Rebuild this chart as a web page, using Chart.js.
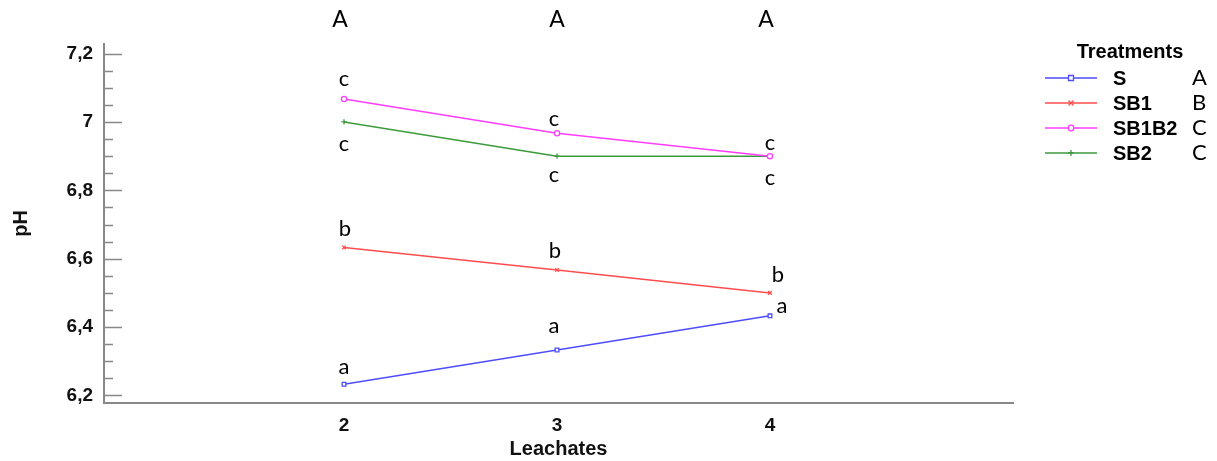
<!DOCTYPE html>
<html>
<head>
<meta charset="utf-8">
<script src="https://cdn.jsdelivr.net/npm/chart.js@4.4.1/dist/chart.umd.min.js"></script>
<style>
  html, body { margin: 0; padding: 0; background: #fff; }
</style>
</head>
<body>
<canvas id="ph-chart" width="1217" height="461"></canvas>
<script>
// valeurs
const leachates = [2, 3, 4];
const treatments = ["S", "SB1", "SB1B2", "SB2"];
const sValues = [6.233, 6.333, 6.433];
const sb1Values = [6.633, 6.567, 6.5];
const sb1b2Values = [7.067, 6.967, 6.9];
const sb2Values = [7.0, 6.9, 6.9];

// lettres de significativite
const treatmentGroups = ["A", "B", "C", "C"];
const leachateGroups = ["A", "A", "A"];
const sLetters = ["a", "a", "a"];
const sb1Letters = ["b", "b", "b"];
const sb1b2Letters = ["c", "c", "c"];
const sb2Letters = ["c", "c", "c"];

const yTickValues = [6.2, 6.25, 6.3, 6.35, 6.4, 6.45, 6.5, 6.55, 6.6, 6.65, 6.7, 6.75, 6.8, 6.85, 6.9, 6.95, 7.0, 7.05, 7.1, 7.15, 7.2];

// position des lettres par rapport au point (dx, dy baseline)
const letterOffsets = [
  [[0, -10], [-3, -17], [12, -3]],
  [[1, -11], [-2, -12], [8, -11]],
  [[0, -13], [-3, -7], [0, -6]],
  [[0, 29], [-3, 26], [0, 29]]
];
const topLetterDx = [-4, 0, -4];

const colors = ["#4d4dff", "#ff4d4d", "#ff3dff", "#3c9a3c"];
const pointStyles = ["rect", "crossRot", "circle", "cross"];
const axisGrey = "#888888";

function toPoints(values) {
  return values.map((v, i) => ({ x: leachates[i], y: v }));
}

const seriesValues = [sValues, sb1Values, sb1b2Values, sb2Values];
const seriesLetters = [sLetters, sb1Letters, sb1b2Letters, sb2Letters];

const datasets = treatments.map((name, i) => ({
  label: name,
  data: toPoints(seriesValues[i]),
  letters: seriesLetters[i],
  borderColor: colors[i],
  backgroundColor: "#ffffff",
  pointBorderColor: colors[i],
  pointBackgroundColor: "#ffffff",
  pointStyle: pointStyles[i],
  pointRadius: 2.6,
  pointBorderWidth: 1.3,
  borderWidth: 1.5,
  tension: 0
}));

function drawMarker(ctx, style, x, y, color) {
  ctx.save();
  ctx.strokeStyle = color;
  ctx.fillStyle = "#ffffff";
  ctx.lineWidth = 1.3;
  ctx.beginPath();
  if (style === "rect") {
    ctx.rect(x - 2.5, y - 2.5, 5, 5);
    ctx.fill();
  } else if (style === "circle") {
    ctx.arc(x, y, 2.8, 0, Math.PI * 2);
    ctx.fill();
  } else if (style === "crossRot") {
    ctx.moveTo(x - 2.5, y - 2.5); ctx.lineTo(x + 2.5, y + 2.5);
    ctx.moveTo(x + 2.5, y - 2.5); ctx.lineTo(x - 2.5, y + 2.5);
  } else {
    ctx.moveTo(x, y - 3); ctx.lineTo(x, y + 3);
    ctx.moveTo(x - 3, y); ctx.lineTo(x + 3, y);
  }
  ctx.stroke();
  ctx.restore();
}

// petites graduations vers l'interieur
const innerTicks = {
  id: "innerTicks",
  afterDraw(chart) {
    const { ctx, scales: { y }, chartArea } = chart;
    ctx.save();
    ctx.strokeStyle = axisGrey;
    ctx.lineWidth = 1.5;
    y.ticks.forEach(t => {
      const major = Math.abs(t.value * 5 - Math.round(t.value * 5)) < 1e-6;
      const py = Math.round(y.getPixelForValue(t.value)) + 0.5;
      ctx.beginPath();
      ctx.moveTo(chartArea.left, py);
      ctx.lineTo(chartArea.left + (major ? 18 : 9), py);
      ctx.stroke();
    });
    ctx.restore();
  }
};

const letterLabels = {
  id: "letterLabels",
  afterDatasetsDraw(chart) {
    const { ctx, scales: { x, y } } = chart;
    ctx.save();
    ctx.fillStyle = "#000";
    ctx.font = "22px Lato";
    ctx.textAlign = "center";
    ctx.textBaseline = "alphabetic";
    chart.data.datasets.forEach((ds, i) => {
      ds.data.forEach((pt, j) => {
        const off = letterOffsets[i][j];
        ctx.fillText(ds.letters[j], x.getPixelForValue(pt.x) + off[0], y.getPixelForValue(pt.y) + off[1]);
      });
    });
    ctx.font = "23px Lato";
    leachates.forEach((l, j) => {
      ctx.fillText(leachateGroups[j], x.getPixelForValue(l) + topLetterDx[j], 27);
    });
    ctx.restore();
  }
};

const sideLegend = {
  id: "sideLegend",
  afterDraw(chart) {
    const { ctx } = chart;
    ctx.save();
    ctx.fillStyle = "#000";
    ctx.textBaseline = "middle";
    ctx.font = "bold 20px 'Liberation Sans', Arial";
    ctx.textAlign = "center";
    ctx.fillText("Treatments", 1130, 52);
    treatments.forEach((name, i) => {
      const ry = 78 + i * 25;
      ctx.strokeStyle = colors[i];
      ctx.lineWidth = 1.5;
      ctx.beginPath();
      ctx.moveTo(1045, ry);
      ctx.lineTo(1097, ry);
      ctx.stroke();
      drawMarker(ctx, pointStyles[i], 1071, ry, colors[i]);
      ctx.fillStyle = "#000";
      ctx.textAlign = "left";
      ctx.font = "bold 20px 'Liberation Sans', Arial";
      ctx.fillText(name, 1113, ry + 1);
      ctx.font = "22px Lato";
      ctx.fillText(treatmentGroups[i], 1192, ry);
    });
    ctx.restore();
  }
};

new Chart(document.getElementById("ph-chart"), {
  type: "line",
  data: { datasets: datasets },
  plugins: [innerTicks, letterLabels, sideLegend],
  options: {
    responsive: false,
    animation: false,
    layout: { padding: { top: 44, right: 204, left: 0, bottom: 0 } },
    plugins: {
      legend: { display: false },
      tooltip: { enabled: false }
    },
    scales: {
      x: {
        type: "linear",
        min: 0.873,
        max: 5.141,
        afterBuildTicks: s => { s.ticks = leachates.map(v => ({ value: v })); },
        afterFit: s => { s.height = 58; },
        grid: { display: false, drawTicks: false },
        border: { display: true, color: axisGrey, width: 2 },
        ticks: {
          padding: 11,
          color: "#111",
          font: { family: "'Liberation Sans', Arial", weight: "bold", size: 19 },
          callback: v => String(v)
        },
        title: {
          display: true,
          text: "Leachates",
          color: "#111",
          padding: { top: 0, bottom: 0 },
          font: { family: "'Liberation Sans', Arial", weight: "bold", size: 20 }
        }
      },
      y: {
        min: 6.178,
        max: 7.228,
        afterBuildTicks: s => { s.ticks = yTickValues.map(v => ({ value: v })); },
        afterFit: s => { s.width = 104; },
        grid: { display: false, drawTicks: false },
        border: { display: true, color: axisGrey, width: 2 },
        ticks: {
          padding: 11,
          color: "#111",
          autoSkip: false,
          font: { family: "'Liberation Sans', Arial", weight: "bold", size: 19 },
          callback: v => {
            if (Math.abs(v * 5 - Math.round(v * 5)) > 1e-6) return "";
            return (Math.round(v * 10) / 10).toString().replace(".", ",");
          }
        },
        title: {
          display: true,
          text: "pH",
          color: "#111",
          padding: { top: 9, bottom: 0 },
          font: { family: "'Liberation Sans', Arial", weight: "bold", size: 20 }
        }
      }
    }
  }
});
</script>
</body>
</html>
